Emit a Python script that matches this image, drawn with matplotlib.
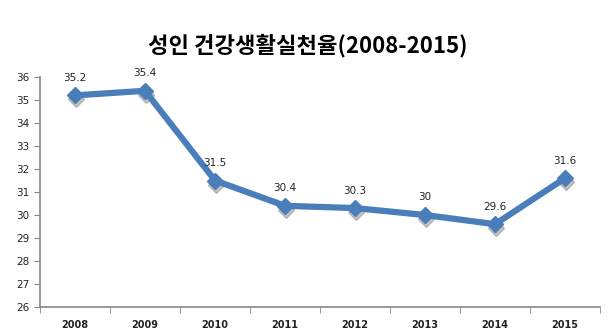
import matplotlib
matplotlib.use('Agg')
import matplotlib.pyplot as plt
import matplotlib.transforms as mtransforms

years = ['2008', '2009', '2010', '2011', '2012', '2013', '2014', '2015']
rate = [35.2, 35.4, 31.5, 30.4, 30.3, 30, 29.6, 31.6]
rate_labels = ['35.2', '35.4', '31.5', '30.4', '30.3', '30', '29.6', '31.6']

plt.rcParams['font.family'] = ['DejaVu Sans']

fig = plt.figure(figsize=(6.09, 3.32), dpi=100)
ax = fig.add_axes([40/609, 25/332, 560/609, 230/332])

x = list(range(len(years)))
line_color = '#4A7EBB'

# soft marker shadows, nudged down-right
shadow = ax.transData + mtransforms.ScaledTranslation(1/100, -4/100, fig.dpi_scale_trans)
ax.plot(x, rate, linestyle='none', marker='D', markersize=8, color='#9a9a9a',
        alpha=0.6, transform=shadow, zorder=2)
ax.plot(x, rate, color=line_color, linewidth=4.5, marker='D', markersize=8,
        markerfacecolor=line_color, markeredgecolor=line_color, zorder=3)

for i in x:
    ax.annotate(rate_labels[i], (i, rate[i]), xytext=(0, 9), textcoords='offset points',
                ha='center', va='bottom', fontsize=7.5, color='#222222')

ax.set_xlim(-0.5, len(years) - 0.5)
ax.set_ylim(26, 36)
ax.set_yticks(range(26, 37))
ax.set_xticks(x)
ax.set_xticklabels(years, fontsize=7, fontweight='bold', color='#222222')
ax.set_xticks([i - 0.5 for i in range(len(years) + 1)], minor=True)
ax.tick_params(axis='x', which='major', length=0, pad=9)
ax.tick_params(axis='x', which='minor', length=4, direction='out', color='#868686')
ax.tick_params(axis='y', length=4, direction='out', color='#868686', labelsize=7.5, labelcolor='#222222')

for side in ['top', 'right']:
    ax.spines[side].set_visible(False)
for side in ['left', 'bottom']:
    ax.spines[side].set_color('#868686')
    ax.spines[side].set_linewidth(1.2)

fig.text(0.505, 0.862, '성인 건강생활실천율(2008-2015)', ha='center', va='center',
         fontsize=16, fontweight='bold', family=['Noto Sans CJK KR', 'DejaVu Sans'])

fig.savefig('out.png', dpi=100)
